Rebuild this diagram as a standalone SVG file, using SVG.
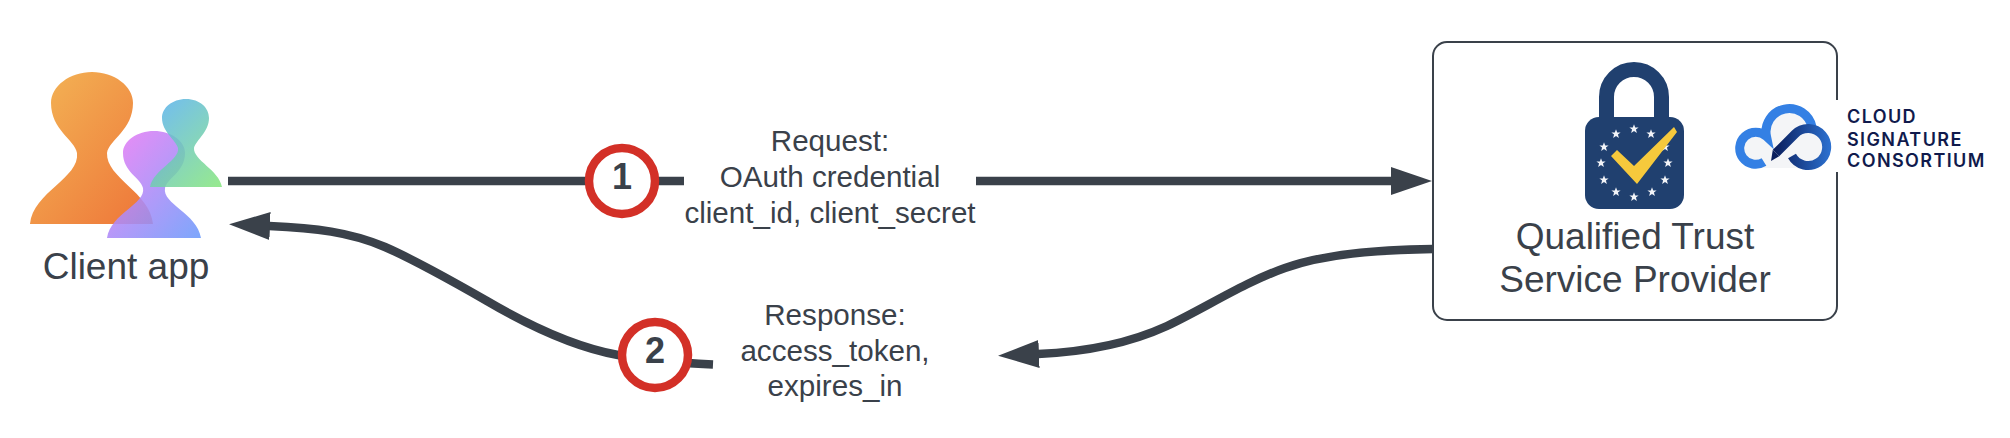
<svg xmlns="http://www.w3.org/2000/svg" width="2010" height="438" viewBox="0 0 2010 438">
<style>
text{font-family:"Liberation Sans",Arial,sans-serif;fill:#3a414a;text-anchor:middle}
.lbl{font-size:29.600px}
.big{font-size:37px}
.num{font-size:36px;font-weight:bold}
.conn{fill:none;stroke:#3a414a;stroke-width:8.5}
.badge{fill:#fff;stroke:#d33027;stroke-width:8.5}
.csc{font-family:Inter,"Liberation Sans",sans-serif;font-size:18px;font-weight:600;fill:#101a4c;text-anchor:start;letter-spacing:1.4px}
.star{fill:#f2f4f8}
</style>
<defs>
<linearGradient id="gO" x1="0" y1="0" x2="1" y2="1"><stop offset="0" stop-color="#f3b656"/><stop offset="1" stop-color="#ee7438"/></linearGradient>
<linearGradient id="gP" x1="0" y1="0" x2="1" y2="1"><stop offset="0" stop-color="#f07af4"/><stop offset="1" stop-color="#6b9bfb"/></linearGradient>
<linearGradient id="gB" x1="0.1" y1="0" x2="0.9" y2="1"><stop offset="0" stop-color="#58b0f0"/><stop offset="1" stop-color="#83e47e"/></linearGradient>
<linearGradient id="gI" gradientUnits="userSpaceOnUse" x1="1775" y1="150" x2="1830" y2="150"><stop offset="0" stop-color="#0b1f5e"/><stop offset="1" stop-color="#2c70cf"/></linearGradient>
<marker id="head" markerUnits="userSpaceOnUse" markerWidth="42" markerHeight="28" refX="1" refY="14" orient="auto"><path d="M0 0L41 14L0 28Z" fill="#3a414a"/></marker>
<polygon id="s" class="star" points="0,-4.8 1.2,-1.6 4.6,-1.5 1.9,.6 2.9,3.9 0,2 -2.9,3.9 -1.9,.6 -4.6,-1.5 -1.2,-1.6"/>
</defs>

<g id="connectors">
<path class="conn" d="M228 181H684"/>
<path class="conn" d="M976 181H1392" marker-end="url(#head)"/>
<path class="conn" d="M1433 249C1375 250 1325 254 1285 268C1245 282 1205 308 1167 326C1130 343 1085 352 1038 354" marker-end="url(#head)"/>
<path class="conn" d="M713 364.500C680 363 650 361 618 355C585 349 545 335 487 301C440 274 410 258 385 247C350 232 315 228 269 226" marker-end="url(#head)"/>
</g>

<g id="client-app">
<path fill="url(#gO)" d="M30 224C33 192 80 178 77 153C75 140 51 130 51 103C51 86 70 72 92 72C114 72 133 86 133 103C133 130 109 140 107 153C106 178 150 192 153 224Z"/>
<path fill="url(#gP)" opacity=".88" d="M107 238C111 213 146 204 143 188C141 178 123 172 123 153C123 141 137 131 154 131C171 131 185 141 185 153C185 172 167 178 165 188C162 204 197 213 201 238Z"/>
<path fill="url(#gB)" opacity=".85" d="M150 187C153 170 180 160 178 148C176 140 162 132 162 118C162 108 172 99 186 99C200 99 209 108 209 118C209 132 196 140 194 148C193 160 219 170 222 187Z"/>
<text class="big" x="126" y="279">Client app</text>
</g>

<g id="badge-1"><circle class="badge" cx="622" cy="181" r="33"/><text class="num" x="622" y="189">1</text></g>
<g id="label-request">
<text class="lbl" x="830" y="151">Request:</text>
<text class="lbl" x="830" y="187">OAuth credential</text>
<text class="lbl" x="830" y="223">client_id, client_secret</text>
</g>
<g id="badge-2"><circle class="badge" cx="655" cy="355" r="33"/><text class="num" x="655" y="363">2</text></g>
<g id="label-response">
<text class="lbl" x="835" y="325">Response:</text>
<text class="lbl" x="835" y="361">access_token,</text>
<text class="lbl" x="835" y="396">expires_in</text>
</g>

<g id="qtsp">
<rect x="1433" y="42" width="404" height="278" rx="14" fill="#fff" stroke="#3a414a" stroke-width="2"/>
<g id="lock">
<path d="M1606.500 122V97a27.500 27.500 0 0 1 55 0V122" fill="none" stroke="#20406f" stroke-width="15"/>
<rect x="1585" y="117" width="99" height="92" rx="14" fill="#20406f"/>
<use href="#s" x="1634" y="129"/><use href="#s" x="1651" y="134"/><use href="#s" x="1665" y="147"/><use href="#s" x="1668" y="163"/><use href="#s" x="1665" y="180"/><use href="#s" x="1652" y="192"/><use href="#s" x="1634" y="197"/><use href="#s" x="1616" y="192"/><use href="#s" x="1604" y="180"/><use href="#s" x="1601" y="163"/><use href="#s" x="1604" y="147"/><use href="#s" x="1616" y="134"/>
<polygon points="1674,127 1677,132 1637,184 1611,156 1617,150 1634,166" fill="#f6c93c"/>
</g>
<text class="big" x="1635" y="249">Qualified Trust</text>
<text class="big" x="1635" y="292">Service Provider</text>
</g>

<g id="csc-logo">
<rect x="1732" y="100" width="268" height="72" fill="#fff"/>
<g fill="#f4f5f7"><circle cx="1755" cy="148" r="18"/><circle cx="1790" cy="132" r="24"/><circle cx="1808" cy="147" r="21"/><rect x="1755" y="135" width="53" height="33"/></g>
<path d="M1764 162A16 16 0 1 1 1766.500 136.500A22.500 22.500 0 0 1 1812 127" fill="none" stroke="#3480e4" stroke-width="9"/>
<path d="M1776 153L1795 134A18.500 18.500 0 1 1 1792 156" fill="none" stroke="url(#gI)" stroke-width="9"/>
<polygon points="1771,161 1772.800,149.800 1779.200,156.200" fill="#0b1f5e"/>
<text class="csc" x="1847" y="123">CLOUD</text>
<text class="csc" x="1847" y="146">SIGNATURE</text>
<text class="csc" x="1847" y="167">CONSORTIUM</text>
</g>
</svg>
